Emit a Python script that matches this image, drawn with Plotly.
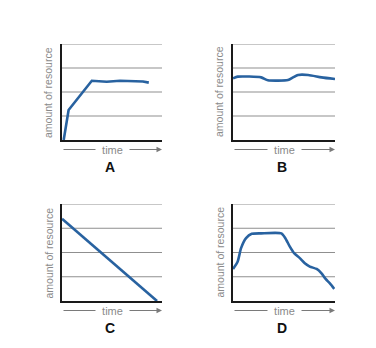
import plotly.graph_objects as go

# Four panels showing how an amount of resource changes over time
panel_labels = ["A", "B", "C", "D"]

a_time = [0.17, 0.66, 2.98, 4.47, 5.8, 7.3, 8.1, 8.68]
a_amount = [0.0, 1.25, 2.47, 2.43, 2.47, 2.47, 2.44, 2.39]

b_time = [0.0, 0.46, 2.76, 3.42, 5.39, 5.89, 6.38, 7.37, 8.68, 10.0]
b_amount = [2.57, 2.64, 2.61, 2.49, 2.5, 2.61, 2.71, 2.71, 2.61, 2.54]

c_time = [0.0, 9.5]
c_amount = [3.39, 0.0]

d_time = [0.0, 0.46, 0.79, 1.28, 1.84, 2.76, 4.74, 5.13, 5.56, 5.99,
          6.55, 7.04, 7.53, 8.2, 8.68, 9.08, 9.5, 9.93]
d_amount = [1.32, 1.63, 2.18, 2.59, 2.77, 2.79, 2.79, 2.59, 2.25, 1.97,
            1.77, 1.56, 1.42, 1.32, 1.14, 0.91, 0.73, 0.5]

grid_levels = [1, 2, 3, 4]
x_title = "time"
y_title = "amount of resource"

W, H = 376, 348
LINE_BLUE = "#2862a0"
GRID = "#8f8f8f"
TEXT_GRAY = "#8a8a8a"

# panel boxes in pixels: (left, right, top, bottom)
boxes = [(62, 162, 44, 140), (233, 335, 44, 140),
         (62, 162, 204, 301), (233, 335, 204, 301)]
series = [(a_time, a_amount, False), (b_time, b_amount, True),
          (c_time, c_amount, False), (d_time, d_amount, True)]

fig = go.Figure()
annotations = []
shapes = []

for i, ((l, r, t, b), (xs, ys, smooth), lab) in enumerate(zip(boxes, series, panel_labels)):
    n = "" if i == 0 else str(i + 1)
    xa, ya = "x" + n, "y" + n
    fig.add_trace(go.Scatter(
        x=xs, y=ys, mode="lines", xaxis=xa, yaxis=ya,
        line=dict(color=LINE_BLUE, width=2.6,
                  shape="spline" if smooth else "linear", smoothing=0.6),
        showlegend=False, hoverinfo="skip"))
    fig.layout["xaxis" + n] = dict(
        domain=[l / W, r / W], range=[0, 10], anchor=ya,
        showgrid=False, zeroline=False, showticklabels=False, ticks="",
        showline=True, linecolor="#1a1a1a", linewidth=1.5, fixedrange=True)
    fig.layout["yaxis" + n] = dict(
        domain=[1 - b / H, 1 - t / H], range=[0, 4], anchor=xa,
        showgrid=False, zeroline=False, showticklabels=False, ticks="",
        showline=True, linecolor="#1a1a1a", linewidth=1.5, fixedrange=True)

    # horizontal guide lines, including the one along the top edge
    for g in grid_levels:
        shapes.append(dict(
            type="line", xref=xa + " domain", yref=ya,
            x0=0, x1=1, y0=g, y1=g, layer="below",
            line=dict(color=GRID, width=1)))

    # time arrow below the panel with its label in a gap
    ay = b + 9.5
    cx = (l + r) / 2
    annotations.append(dict(
        x=r / W, y=1 - ay / H, xref="paper", yref="paper",
        ax=l - r, ay=0, axref="pixel", ayref="pixel",
        text="", showarrow=True, arrowhead=2, arrowsize=1.1,
        arrowwidth=1, arrowcolor="#7a7a7a"))
    annotations.append(dict(
        x=cx / W, y=1 - ay / H, xref="paper", yref="paper",
        text="&nbsp;&nbsp;" + x_title + "&nbsp;&nbsp;", showarrow=False,
        bgcolor="white", borderpad=0,
        font=dict(size=11, color=TEXT_GRAY, family="Liberation Sans, Arial"),
        xanchor="center", yanchor="middle"))
    # rotated y title
    annotations.append(dict(
        x=(l - 14) / W, y=1 - ((t + b) / 2) / H, xref="paper", yref="paper",
        text=y_title, textangle=-90, showarrow=False,
        font=dict(size=10.5, color=TEXT_GRAY, family="Liberation Sans, Arial"),
        xanchor="center", yanchor="middle"))
    # panel letter
    annotations.append(dict(
        x=(cx - 2) / W, y=1 - (b + 27) / H, xref="paper", yref="paper",
        text="<b>%s</b>" % lab, showarrow=False,
        font=dict(size=14, color="#111111", family="Liberation Sans, Arial"),
        xanchor="center", yanchor="middle"))

fig.update_layout(
    width=W, height=H, margin=dict(l=0, r=0, t=0, b=0),
    paper_bgcolor="white", plot_bgcolor="white",
    annotations=annotations, shapes=shapes)

fig.write_html("out.html", config={"displayModeBar": False})
